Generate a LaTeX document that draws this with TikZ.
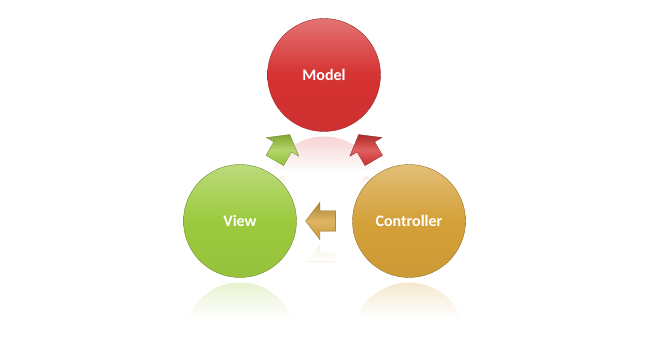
\documentclass[tikz,border=0pt]{standalone}
\usepackage{fontspec}
\setmainfont{Carlito}
\usetikzlibrary{shapes.arrows,calc,fadings,backgrounds}
\definecolor{modelred}{RGB}{214,50,50}
\definecolor{viewgreen}{RGB}{156,202,62}
\definecolor{ctrlgold}{RGB}{212,160,56}
\tikzfading[name=fadein down, top color=transparent!100, bottom color=transparent!0]

\begin{document}
\begin{tikzpicture}[x=1pt, y=-1pt,
  mvc/.style={circle, minimum size=113pt, inner sep=0pt, draw=#1!70!black, line width=0.4pt,
              top color=#1!68!white, bottom color=#1!96!black, middle color=#1, text=white,
              font=\fontsize{16}{19}\selectfont\bfseries},
  arrowshape/.style={single arrow, minimum height=30pt, inner xsep=0pt, inner ysep=10pt,
              text height=0pt, text depth=0pt,
              single arrow head extend=8.5pt, single arrow tip angle=105},
  blk/.style={arrowshape, draw=#1!65!black, line width=0.3pt,
              top color=#1!82!black, bottom color=#1!95!black, middle color=#1!78!white,
              sloped, allow upside down},
]
\useasboundingbox (0,0) rectangle (654,342);

% Circles
\node[mvc=modelred] (model) at (324,75) {Model};
\node[mvc=viewgreen] (view) at (240,221) {View};
\node[mvc=ctrlgold] (ctrl) at (409,221) {Controller};

% Arrows
\path (view) -- node[blk=viewgreen, pos=0.44] (v2m) {} (model);
\path (ctrl) -- node[blk=modelred, pos=0.44] (c2m) {} (model);
\path (ctrl) -- node[blk=ctrlgold] (c2v) {} (view);

% Reflections
\begin{scope}[on background layer]
  \begin{scope}
    \clip ($(model)+(0,118)$) circle[radius=56.5];
    \shade[top color=modelred!22!white, bottom color=white] ($(model)+(-57,61)$) rectangle ($(model)+(57,97)$);
  \end{scope}
  \begin{scope}
    \clip ($(view)+(0,118)$) circle[radius=56.5];
    \shade[top color=viewgreen!25!white, bottom color=white] ($(view)+(-57,61)$) rectangle ($(view)+(57,97)$);
  \end{scope}
  \begin{scope}
    \clip ($(ctrl)+(0,118)$) circle[radius=56.5];
    \shade[top color=ctrlgold!25!white, bottom color=white] ($(ctrl)+(-57,61)$) rectangle ($(ctrl)+(57,97)$);
  \end{scope}

  \begin{scope}
    \clip ($(v2m)+(-25,19)$) rectangle ($(v2m)+(25,33)$);
    \node[arrowshape, fill=viewgreen!22!white, rotate=-60] (v2mr) at ($(v2m)+(0,39)$) {};
    \fill[white, path fading=fadein down] ($(v2m)+(-25,19)$) rectangle ($(v2m)+(25,33)$);
  \end{scope}
  \begin{scope}
    \clip ($(c2m)+(-25,19)$) rectangle ($(c2m)+(25,33)$);
    \node[arrowshape, fill=modelred!18!white, rotate=-120] (c2mr) at ($(c2m)+(0,39)$) {};
    \fill[white, path fading=fadein down] ($(c2m)+(-25,19)$) rectangle ($(c2m)+(25,33)$);
  \end{scope}
  \begin{scope}
    \clip ($(c2v)+(-25,21)$) rectangle ($(c2v)+(25,40)$);
    \node[arrowshape, fill=ctrlgold!16!white, rotate=180] (c2vr) at ($(c2v)+(0,42)$) {};
    \fill[white, path fading=fadein down] ($(c2v)+(-25,21)$) rectangle ($(c2v)+(25,40)$);
  \end{scope}
\end{scope}
\end{tikzpicture}
\end{document}
